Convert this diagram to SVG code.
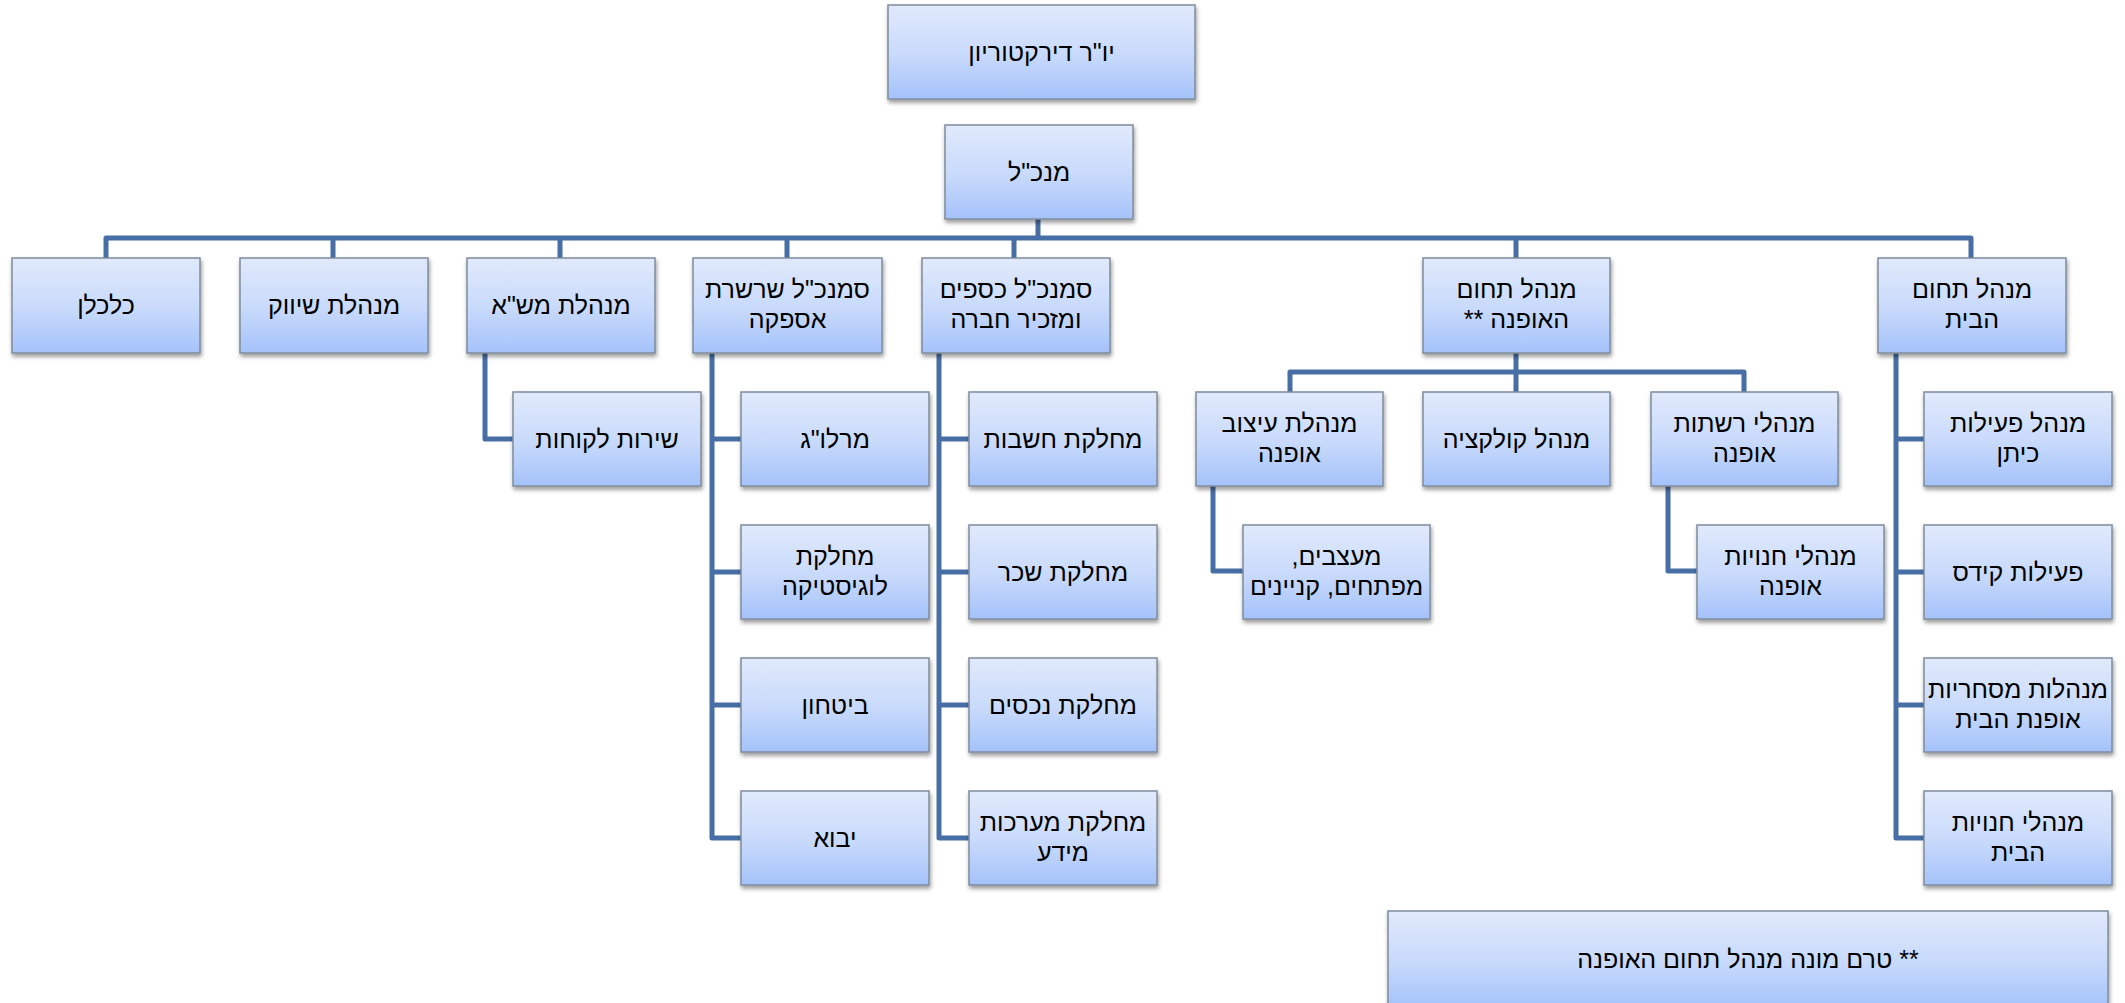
<svg xmlns="http://www.w3.org/2000/svg" width="2125" height="1003" viewBox="0 0 2125 1003">
<style>
.box{fill:url(#g);stroke:#7f8c9c;stroke-width:1.5;filter:url(#sh)}
text{font-family:"Liberation Sans","DejaVu Sans",sans-serif;font-size:25px;fill:#000;text-anchor:middle;direction:rtl;unicode-bidi:embed}
.c{fill:none;stroke:#476fa5;stroke-width:5;stroke-linejoin:round}
</style>
<defs>
<linearGradient id="g" x1="0" y1="0" x2="0" y2="1">
<stop offset="0" stop-color="#e1eafc"/>
<stop offset="0.55" stop-color="#c7d9fb"/>
<stop offset="1" stop-color="#a4c2fa"/>
</linearGradient>
<filter id="sh" x="-10%" y="-10%" width="120%" height="130%">
<feDropShadow dx="1" dy="3" stdDeviation="2" flood-color="#000" flood-opacity="0.4"/>
</filter>
</defs>
<g id="connectors">
<path class="c" d="M1038 219V238"/>
<path class="c" d="M106 258V238H1971V258"/>
<path class="c" d="M333 238V258M560 238V258M787 238V258M1014 238V258M1516 238V258"/>
<path class="c" d="M485 353V439H513"/>
<path class="c" d="M712 353V838H741M712 439H741M712 572H741M712 705H741"/>
<path class="c" d="M939 353V838H969M939 439H969M939 572H969M939 705H969"/>
<path class="c" d="M1516 353V372"/>
<path class="c" d="M1290 392V372H1744V392M1516 372V392"/>
<path class="c" d="M1213 486V571H1243"/>
<path class="c" d="M1668 486V571H1697"/>
<path class="c" d="M1896 353V838H1924M1896 439H1924M1896 572H1924M1896 705H1924"/>
</g>
<g id="n-chair"><rect class="box" x="888" y="5" width="307" height="94"/><text x="1041.5" y="61">יו"ר דירקטוריון</text></g>
<g id="n-ceo"><rect class="box" x="945" y="125" width="188" height="94"/><text x="1039" y="181">מנכ"ל</text></g>
<g id="n-economist"><rect class="box" x="12" y="258" width="188" height="95"/><text x="106" y="314">כלכלן</text></g>
<g id="n-marketing"><rect class="box" x="240" y="258" width="188" height="95"/><text x="334" y="314">מנהלת שיווק</text></g>
<g id="n-hr"><rect class="box" x="467" y="258" width="188" height="95"/><text x="561" y="314">מנהלת מש"א</text></g>
<g id="n-supply"><rect class="box" x="693" y="258" width="189" height="95"/><text x="787.5" y="298">סמנכ"ל שרשרת</text><text x="787.5" y="328">אספקה</text></g>
<g id="n-finance"><rect class="box" x="922" y="258" width="188" height="95"/><text x="1016" y="298">סמנכ"ל כספים</text><text x="1016" y="328">ומזכיר חברה</text></g>
<g id="n-fashion"><rect class="box" x="1423" y="258" width="187" height="95"/><text x="1516.5" y="298">מנהל תחום</text><text x="1516.5" y="328">האופנה **</text></g>
<g id="n-home"><rect class="box" x="1878" y="258" width="188" height="95"/><text x="1972" y="298">מנהל תחום</text><text x="1972" y="328">הבית</text></g>
<g id="n-service"><rect class="box" x="513" y="392" width="188" height="94"/><text x="607" y="448">שירות לקוחות</text></g>
<g id="n-dc"><rect class="box" x="741" y="392" width="188" height="94"/><text x="835" y="448">מרלו"ג</text></g>
<g id="n-logistics"><rect class="box" x="741" y="525" width="188" height="94"/><text x="835" y="565">מחלקת</text><text x="835" y="595">לוגיסטיקה</text></g>
<g id="n-security"><rect class="box" x="741" y="658" width="188" height="94"/><text x="835" y="714">ביטחון</text></g>
<g id="n-import"><rect class="box" x="741" y="791" width="188" height="94"/><text x="835" y="847">יבוא</text></g>
<g id="n-accounting"><rect class="box" x="969" y="392" width="188" height="94"/><text x="1063" y="448">מחלקת חשבות</text></g>
<g id="n-payroll"><rect class="box" x="969" y="525" width="188" height="94"/><text x="1063" y="581">מחלקת שכר</text></g>
<g id="n-assets"><rect class="box" x="969" y="658" width="188" height="94"/><text x="1063" y="714">מחלקת נכסים</text></g>
<g id="n-it"><rect class="box" x="969" y="791" width="188" height="94"/><text x="1063" y="831">מחלקת מערכות</text><text x="1063" y="861">מידע</text></g>
<g id="n-design"><rect class="box" x="1196" y="392" width="187" height="94"/><text x="1289.5" y="432">מנהלת עיצוב</text><text x="1289.5" y="462">אופנה</text></g>
<g id="n-collection"><rect class="box" x="1423" y="392" width="187" height="94"/><text x="1516.5" y="448">מנהל קולקציה</text></g>
<g id="n-chains"><rect class="box" x="1651" y="392" width="187" height="94"/><text x="1744.5" y="432">מנהלי רשתות</text><text x="1744.5" y="462">אופנה</text></g>
<g id="n-designers"><rect class="box" x="1243" y="525" width="187" height="94"/><text x="1336.5" y="565">מעצבים,</text><text x="1336.5" y="595">מפתחים, קניינים</text></g>
<g id="n-fashion-stores"><rect class="box" x="1697" y="525" width="187" height="94"/><text x="1790.5" y="565">מנהלי חנויות</text><text x="1790.5" y="595">אופנה</text></g>
<g id="n-kitan"><rect class="box" x="1924" y="392" width="188" height="94"/><text x="2018" y="432">מנהל פעילות</text><text x="2018" y="462">כיתן</text></g>
<g id="n-kids"><rect class="box" x="1924" y="525" width="188" height="94"/><text x="2018" y="581">פעילות קידס</text></g>
<g id="n-merch"><rect class="box" x="1924" y="658" width="188" height="94"/><text x="2018" y="698">מנהלות מסחריות</text><text x="2018" y="728">אופנת הבית</text></g>
<g id="n-home-stores"><rect class="box" x="1924" y="791" width="188" height="94"/><text x="2018" y="831">מנהלי חנויות</text><text x="2018" y="861">הבית</text></g>
<g id="n-note"><rect class="box" x="1388" y="911" width="720" height="96"/><text x="1748" y="968">** טרם מונה מנהל תחום האופנה</text></g>
</svg>
